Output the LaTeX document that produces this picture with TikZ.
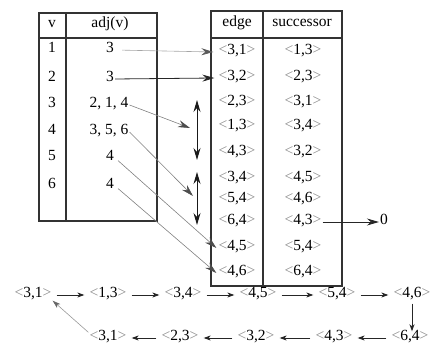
\documentclass[tikz,border=0pt]{standalone}
\usepackage{fontspec}
\setmainfont{Liberation Serif}
\usetikzlibrary{arrows.meta,calc}
\newcommand{\edg}[2]{{\color{black!45}<}#1,#2{\color{black!45}>}}
\begin{document}
\begin{tikzpicture}[x=1pt,y=-1pt,
  font=\fontsize{15.5}{16}\selectfont,
  tbl/.style={line width=1.1pt,draw=black!80},
  txt/.style={inner sep=1pt,anchor=center,text height=1.6ex,text depth=0.35ex},
  garr/.style={draw=black!50,line width=0.6pt,-{Stealth[length=12pt,width=7pt,inset=4pt,color=black!70]}},
  larr/.style={draw=black!35,line width=0.6pt,-{Stealth[length=12pt,width=7pt,inset=4pt,color=black!65]}},
  darr/.style={draw=black!85,line width=0.8pt,-{Stealth[length=12pt,width=7pt,inset=4pt]}},
  dbl/.style={draw=black!90,line width=1pt,{Stealth[length=12pt,width=7pt,inset=4pt]}-{Stealth[length=12pt,width=7pt,inset=4pt]}},
  sarr/.style={draw=black!85,line width=1pt,-{Stealth[length=7pt,width=5pt,inset=2pt]}},
  sgarr/.style={draw=black!40,line width=0.6pt,-{Stealth[length=8pt,width=5pt,inset=2pt,color=black!60]}}]
\useasboundingbox (0,0) rectangle (430,344);
\clip (0,0) rectangle (430,344);
% left table
\draw[tbl] (39,13) rectangle (157,221);
\draw[tbl] (39,38) -- (157,38);
\draw[tbl] (66,13) -- (66,221);
\node[txt] (hv) at (52,25) {v};
\node[txt] (hadj) at (110,25) {adj(v)};
\foreach \n/\y in {1/50,2/79,3/105,4/132,5/158,6/186}
  \node[txt] (v\n) at (52,\y) {\n};
\node[txt] (a1) at (110,50) {3};
\node[txt] (a2) at (110,79) {3};
\node[txt] (a3) at (109,105) {2, 1, 4};
\node[txt] (a4) at (109,132) {3, 5, 6};
\node[txt] (a5) at (110,158) {4};
\node[txt] (a6) at (110,186) {4};
% right table
\draw[tbl] (211,11) rectangle (342,286);
\draw[tbl] (211,38) -- (342,38);
\draw[tbl] (263,11) -- (263,286);
\node[txt] (hedge) at (237,24) {edge};
\node[txt] (hsucc) at (302,24) {successor};
\foreach \i/\y/\ea/\eb/\sa/\sb in {1/52/3/1/1/3, 2/78/3/2/2/3, 3/103/2/3/3/1, 4/127/1/3/3/4,
   5/153/4/3/3/2, 6/179/3/4/4/5, 7/200/5/4/4/6, 8/222/6/4/4/3, 9/248/4/5/5/4, 10/273/4/6/6/4}{
  \node[txt] (e\i) at (237,\y) {\edg{\ea}{\eb}};
  \node[txt] (s\i) at (303,\y) {\edg{\sa}{\sb}};
}
\node[txt] (zero) at (384,222) {0};
\draw[darr] (s8.east) -- (zero.west);
% arrows between the tables
\coordinate (t3) at (190,128);
\coordinate (t4) at (193,196);
\coordinate (d1a) at (197,100);
\coordinate (d1b) at (197,160);
\coordinate (d2a) at (197,172);
\coordinate (d2b) at (197,225);
\draw[larr,shorten <=7pt] (a1.east) -- ($(e1.west)+(-4,0)$);
\draw[darr] (a2.east) -- ($(e2.west)+(-3,0)$);
\draw[garr] (a3.east) -- (t3);
\draw[garr] (a4.east) -- (t4);
\draw[garr,shorten <=4pt] (a5.east) -- ($(e9.west)+(-1,0)$);
\draw[garr,shorten <=4pt] (a6.east) -- ($(e10.west)+(-1,0)$);
\draw[dbl] (d1a) -- (d1b);
\draw[dbl] (d2a) -- (d2b);
% bottom chain
\foreach \i/\x/\a/\b in {1/33/3/1, 2/108/1/3, 3/183/3/4, 4/258/4/5, 5/337/5/4, 6/412/4/6}
  \node[txt] (r\i) at (\x,295) {\edg{\a}{\b}};
\foreach \i/\x/\a/\b in {1/108/3/1, 2/180/2/3, 3/256/3/2, 4/334/4/3, 5/410/6/4}
  \node[txt] (q\i) at (\x,338) {\edg{\a}{\b}};
\foreach \i/\j in {1/2,2/3,3/4,4/5,5/6}
  \draw[sarr,shorten <=4pt,shorten >=4pt] (r\i.east) -- (r\j.west);
\foreach \i/\j in {5/4,4/3,3/2,2/1}
  \draw[sarr,shorten <=4pt,shorten >=4pt] (q\i.west) -- (q\j.east);
\draw[sarr,shorten <=3pt,shorten >=1pt] (r6.south) -- (r6.south |- q5.north);
\draw[sgarr] (q1.north west) -- (r1.south east);
\end{tikzpicture}
\end{document}
